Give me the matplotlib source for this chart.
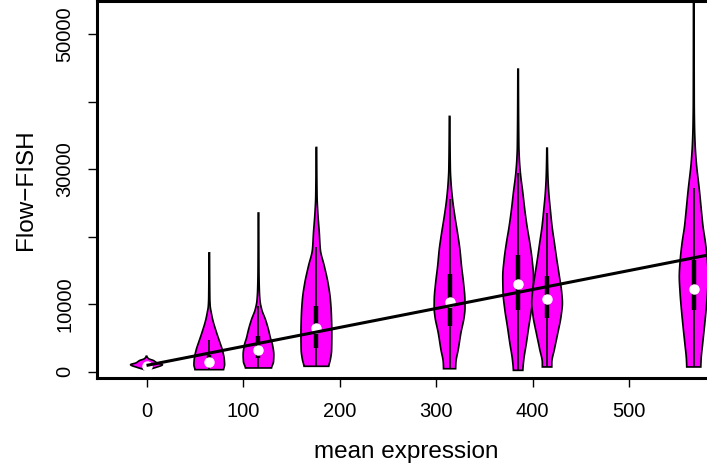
import numpy as np
import matplotlib
matplotlib.use("Agg")
import matplotlib.pyplot as plt
from matplotlib.patches import Polygon

plt.rcParams['font.family'] = ['Liberation Sans', 'DejaVu Sans']

# Summary of each Flow-FISH distribution, placed at its mean expression
positions = [0, 65, 116, 176, 314, 385, 415, 567]
medians = [800, 1380, 3160, 6470, 10270, 13000, 10800, 12250]
q1 = [600, 800, 2030, 3500, 6700, 9200, 7950, 9200]
q3 = [1000, 2400, 5230, 9680, 14400, 17300, 14200, 16600]
whisk_lo = [300, 300, 550, 800, 440, 200, 700, 700]
whisk_hi = [1500, 4700, 9800, 18500, 25500, 29400, 23500, 27200]

# Density outlines: signal levels and half-widths (x units)
lev_0 = [300, 600, 1040, 1300, 1670, 1900, 2100, 2300]
wid_0 = [2.5, 9.0, 16.5, 11.0, 7.0, 2.5, 1.0, 0.3]
lev_1 = [300, 1040, 1780, 3260, 4300, 5780, 7700, 8740, 9700, 11000, 17600]
wid_1 = [14.8, 15.9, 15.6, 13.5, 11.1, 7.6, 3.6, 2.1, 1.0, 0.6, 0.3]
lev_2 = [550, 1500, 2500, 4000, 5000, 6200, 7700, 9200, 10500, 12100, 15000, 23500]
wid_2 = [13.5, 15.6, 15.9, 14.5, 12.4, 10.4, 7.3, 3.4, 1.6, 0.9, 0.5, 0.3]
lev_3 = [800, 1800, 3260, 5700, 8200, 10700, 13100, 15600, 18100, 20600, 23500, 26000, 33200]
wid_3 = [12.8, 14.5, 15.8, 16.0, 15.6, 14.5, 12.1, 8.3, 4.1, 3.0, 1.5, 0.7, 0.3]
lev_4 = [440, 1300, 3300, 5700, 8200, 9400, 10700, 13100, 15600, 18100, 20500, 23000,
         25500, 28000, 30000, 37800]
wid_4 = [6.3, 6.5, 9.0, 11.7, 15.2, 16.0, 15.9, 14.5, 12.4, 10.7, 8.3, 5.5,
         3.1, 1.5, 0.8, 0.3]
lev_5 = [200, 1800, 4250, 6700, 9200, 11700, 14100, 16600, 19100, 21500, 24000, 26500,
         29400, 31500, 33400, 44800]
wid_5 = [4.9, 5.9, 8.6, 11.1, 13.8, 15.6, 15.9, 14.5, 12.1, 9.3, 6.9, 4.9,
         2.4, 1.3, 0.8, 0.3]
lev_6 = [700, 1300, 3300, 5700, 8200, 10200, 11700, 14100, 16600, 19100, 21500, 24000,
         26500, 28500, 30400, 33100]
wid_6 = [4.9, 4.9, 7.6, 11.1, 14.5, 15.9, 15.2, 12.8, 10.1, 7.6, 5.2, 3.4,
         1.8, 1.0, 0.6, 0.3]
lev_7 = [700, 1800, 4250, 6700, 9200, 11700, 14100, 16600, 19100, 21500, 24000, 26500,
         31400, 34000, 36300, 40000, 62000]
wid_7 = [7.3, 7.6, 9.3, 11.1, 12.8, 14.2, 15.0, 14.0, 12.1, 9.6, 7.8, 6.1,
         2.4, 1.3, 0.8, 0.5, 0.3]

outlines = [(lev_0, wid_0), (lev_1, wid_1), (lev_2, wid_2), (lev_3, wid_3),
            (lev_4, wid_4), (lev_5, wid_5), (lev_6, wid_6), (lev_7, wid_7)]

# Linear fit of Flow-FISH on mean expression
fit_x = [0, 620]
fit_y = [930, 18350]

x_ticks = [0, 100, 200, 300, 400, 500]
y_ticks = [0, 10000, 20000, 30000, 40000, 50000]
y_ticklabels = ['0', '10000', '', '30000', '', '50000']


def pchip(x, y, xn):
    """Shape-preserving cubic through the outline knots."""
    x = np.asarray(x, float)
    y = np.asarray(y, float)
    h = np.diff(x)
    d = np.diff(y) / h
    m = np.zeros_like(y)
    for k in range(1, len(x) - 1):
        if d[k - 1] * d[k] > 0:
            w1 = 2 * h[k] + h[k - 1]
            w2 = h[k] + 2 * h[k - 1]
            m[k] = (w1 + w2) / (w1 / d[k - 1] + w2 / d[k])
    m[0] = d[0] * 0.5
    m[-1] = d[-1] * 0.5
    idx = np.clip(np.searchsorted(x, xn) - 1, 0, len(h) - 1)
    t = (xn - x[idx]) / h[idx]
    h00 = 2 * t**3 - 3 * t**2 + 1
    h10 = t**3 - 2 * t**2 + t
    h01 = -2 * t**3 + 3 * t**2
    h11 = t**3 - t**2
    return (h00 * y[idx] + h10 * h[idx] * m[idx] + h01 * y[idx + 1]
            + h11 * h[idx] * m[idx + 1])


fig = plt.figure(figsize=(7.07, 4.70), dpi=100)
ax = fig.add_axes([97.3 / 707, 92 / 470, 617.7 / 707, 377 / 470])
ax.set_xlim(-51, 589)
ax.set_ylim(-933, 54886)

for pos, (lev, wid) in zip(positions, outlines):
    yy = np.linspace(lev[0], lev[-1], 400)
    ww = np.clip(pchip(lev, wid, yy), 0.2, None)
    xs = np.concatenate([pos - ww, (pos + ww)[::-1]])
    ys = np.concatenate([yy, yy[::-1]])
    ax.add_patch(Polygon(np.column_stack([xs, ys]), closed=True,
                         facecolor='#FF00FF', edgecolor='black',
                         linewidth=1.2, zorder=2))

ax.vlines(positions, whisk_lo, whisk_hi, color='black', linewidth=1.2, zorder=3)
ax.vlines(positions, q1, q3, color='black', linewidth=3.2, zorder=3)
ax.plot(positions, medians, linestyle='none', marker='o', markersize=6.5,
        markerfacecolor='white', markeredgecolor='white', zorder=4)

ax.plot(fit_x, fit_y, color='black', linewidth=2.2, zorder=5,
        solid_capstyle='butt')

ax.set_xticks(x_ticks)
ax.set_xticklabels([str(v) for v in x_ticks])
ax.set_yticks(y_ticks)
ax.set_yticklabels(y_ticklabels, rotation=90, va='center')
ax.tick_params(axis='both', direction='out', length=6.5, width=1.0,
               labelsize=14.5, colors='black')
ax.tick_params(axis='x', pad=11)
ax.tick_params(axis='y', pad=10)

for sp in ax.spines.values():
    sp.set_linewidth(2.2)

ax.set_xlabel('mean expression', fontsize=17.5, labelpad=14)
ax.set_ylabel('Flow\u2212FISH', fontsize=17.5, labelpad=13)

fig.savefig('out.png', dpi=100)
